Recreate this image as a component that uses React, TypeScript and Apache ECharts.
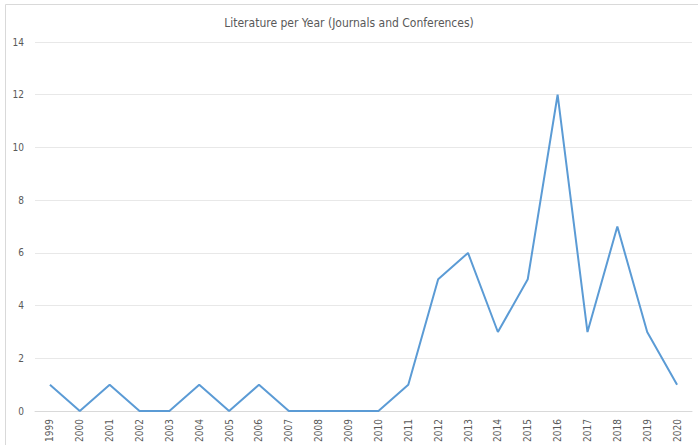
import React, { useEffect, useRef } from "react";
import * as echarts from "echarts";

const years = ["1999","2000","2001","2002","2003","2004","2005","2006","2007","2008","2009","2010","2011","2012","2013","2014","2015","2016","2017","2018","2019","2020"];
const counts = [1,0,1,0,0,1,0,1,0,0,0,0,1,5,6,3,5,12,3,7,3,1];
const titleText = "Literature per Year (Journals and Conferences)";

const FONT = "'Liberation Sans Narrow', 'DejaVu Sans Condensed', 'Liberation Sans', sans-serif";

export default function App() {
  const ref = useRef<HTMLDivElement>(null);
  useEffect(() => {
    if (!ref.current) return;
    const chart = echarts.init(ref.current, null, { renderer: "svg" });
    chart.setOption({
      animation: false,
      backgroundColor: "#ffffff",
      title: {
        text: titleText,
        left: "center",
        top: 12,
        textStyle: { fontFamily: FONT, fontSize: 12, fontWeight: "normal", color: "#595959" },
      },
      graphic: [
        {
          type: "rect",
          shape: { x: 5.5, y: 4.5, width: 700, height: 460 },
          style: { fill: "none", stroke: "#d9d9d9", lineWidth: 1 },
          silent: true,
        },
      ],
      grid: { left: 35, right: 6, top: 42, bottom: 33, containLabel: false },
      xAxis: {
        type: "category",
        data: years,
        boundaryGap: true,
        axisLine: { show: true, lineStyle: { color: "#d9d9d9", width: 1 } },
        axisTick: { show: false },
        axisLabel: { rotate: 90, fontFamily: FONT, fontSize: 10, color: "#595959", margin: 8, interval: 0 },
        splitLine: { show: false },
      },
      yAxis: {
        type: "value",
        min: 0,
        max: 14,
        interval: 2,
        axisLine: { show: false },
        axisTick: { show: false },
        axisLabel: { fontFamily: FONT, fontSize: 10, color: "#595959", margin: 11 },
        splitLine: { show: true, lineStyle: { color: "#e8e8e8", width: 1 } },
      },
      series: [
        {
          type: "line",
          data: counts,
          showSymbol: false,
          symbol: "none",
          lineStyle: { color: "#5b9bd5", width: 2 },
          itemStyle: { color: "#5b9bd5" },
        },
      ],
    });
    return () => chart.dispose();
  }, []);
  return <div ref={ref} style={{ width: 698, height: 445, position: "absolute", left: 0, top: 0 }} />;
}
